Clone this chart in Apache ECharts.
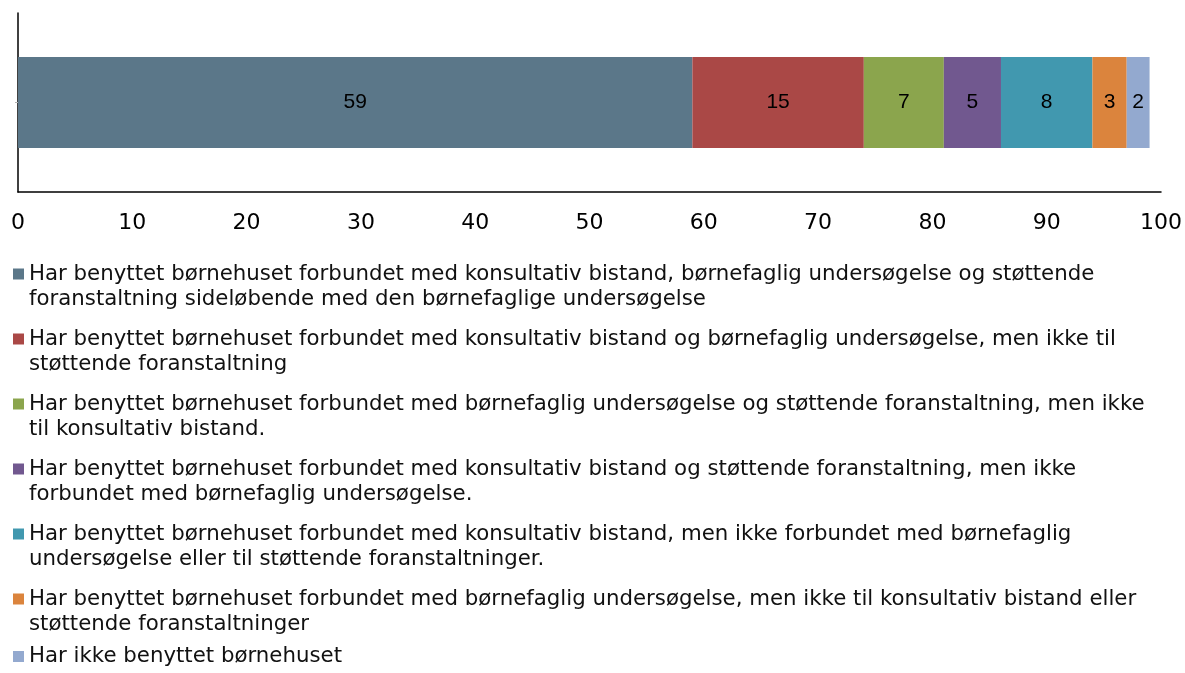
<!DOCTYPE html>
<html>
<head>
<meta charset="utf-8">
<script src="https://cdn.jsdelivr.net/npm/echarts@6/dist/echarts.min.js"></script>
<style>
  html, body { margin: 0; padding: 0; background: #ffffff; }
  #chart { width: 1185px; height: 673px; }
</style>
</head>
<body>
<div id="chart"></div>
<script>
// Single stacked bar: share (%) of cases by how the children's house was used
const categories = [''];

const seriesNames = [
  'Har benyttet børnehuset forbundet med konsultativ bistand, børnefaglig undersøgelse og støttende\nforanstaltning sideløbende med den børnefaglige undersøgelse',
  'Har benyttet børnehuset forbundet med konsultativ bistand og børnefaglig undersøgelse, men ikke til\nstøttende foranstaltning',
  'Har benyttet børnehuset forbundet med børnefaglig undersøgelse og støttende foranstaltning, men ikke\ntil konsultativ bistand.',
  'Har benyttet børnehuset forbundet med konsultativ bistand og støttende foranstaltning, men ikke\nforbundet med børnefaglig undersøgelse.',
  'Har benyttet børnehuset forbundet med konsultativ bistand, men ikke forbundet med børnefaglig\nundersøgelse eller til støttende foranstaltninger.',
  'Har benyttet børnehuset forbundet med børnefaglig undersøgelse, men ikke til konsultativ bistand eller\nstøttende foranstaltninger',
  'Har ikke benyttet børnehuset'
];

const seriesValues = [59, 15, 7, 5, 8, 3, 2];

const xTicks = { min: 0, max: 100, interval: 10 };

const colors = ['#5b7789', '#aa4846', '#8ba54d', '#71588f', '#4198af', '#db843d', '#93a9cf'];

const legendFont = 'DejaVu Sans, Verdana, sans-serif';
const legendSize = 21.3;

const chart = echarts.init(document.getElementById('chart'), null, { renderer: 'canvas' });

const series = seriesNames.map((name, i) => ({
  name: name,
  type: 'bar',
  stack: 'total',
  barWidth: 91,
  data: [seriesValues[i]],
  itemStyle: { color: colors[i] },
  label: {
    show: true,
    position: 'inside',
    color: '#000000',
    fontFamily: 'Liberation Sans, Arial, sans-serif',
    fontSize: 21
  },
  emphasis: { disabled: true }
}));

// Legend entries: coloured square sits on the first line, wrapped lines are indented
const legendRich = {
  gap: { width: 5 },
  ind: { width: 16 }
};
colors.forEach((c, i) => {
  legendRich['m' + i] = { width: 11, height: 11, backgroundColor: c };
});

function legendLabel(name) {
  const i = seriesNames.indexOf(name);
  return name.split('\n').map((ln, k) =>
    (k === 0 ? '{m' + i + '|}{gap|}' : '{ind|}') + ln
  ).join('\n');
}

function makeLegend(names, top) {
  return {
    orient: 'horizontal',
    left: 8,
    top: top,
    padding: 0,
    itemWidth: 0,
    itemHeight: 0,
    itemGap: 15,
    icon: 'none',
    selectedMode: false,
    formatter: legendLabel,
    textStyle: {
      color: '#111111',
      fontFamily: legendFont,
      fontSize: legendSize,
      lineHeight: 25,
      rich: legendRich
    },
    data: names
  };
}

chart.setOption({
  animation: false,
  color: colors,
  grid: { left: 18, right: 23, top: 13, height: 179, containLabel: false },
  xAxis: {
    type: 'value',
    min: xTicks.min,
    max: xTicks.max,
    interval: xTicks.interval,
    axisLine: { show: true, lineStyle: { color: '#000000', width: 1.5 } },
    axisTick: { show: false },
    splitLine: { show: false },
    axisLabel: {
      color: '#000000',
      fontFamily: 'DejaVu Sans, Verdana, sans-serif',
      fontSize: 22,
      margin: 20
    }
  },
  yAxis: {
    type: 'category',
    data: categories,
    axisLine: { show: true, lineStyle: { color: '#000000', width: 1.5 } },
    axisTick: { show: true, alignWithLabel: true, length: 3, lineStyle: { color: '#b0b0b0' } },
    axisLabel: { show: false }
  },
  legend: [
    makeLegend(seriesNames.slice(0, 6), 261.5),
    makeLegend(seriesNames.slice(6), 644)
  ],
  series: series
});
</script>
</body>
</html>
